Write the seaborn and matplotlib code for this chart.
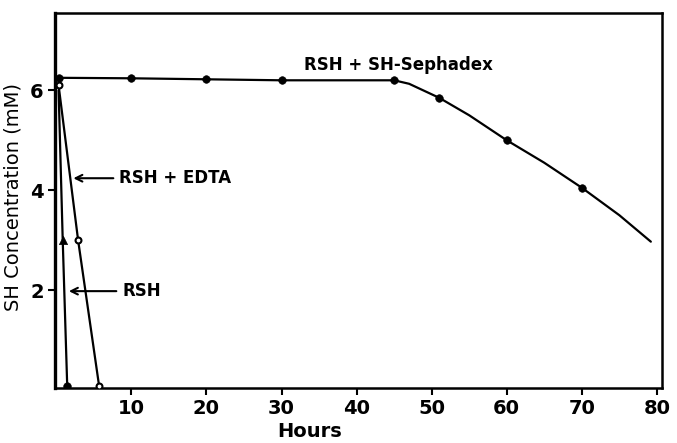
import numpy as np
import pandas as pd
import matplotlib
matplotlib.use("Agg")
import matplotlib.pyplot as plt
import seaborn as sns

# values (hours, SH mM)
seph_hours = [0.3, 10, 20, 30, 45, 51, 60, 70]
seph_sh = [6.25, 6.24, 6.22, 6.2, 6.2, 5.85, 5.0, 4.05]
# smooth drawn curve for the sephadex series
seph_curve_hours = [0.3, 10, 20, 30, 45, 47, 51, 55, 60, 65, 70, 75, 79.2]
seph_curve_sh = [6.25, 6.24, 6.22, 6.2, 6.2, 6.13, 5.85, 5.5, 5.0, 4.55, 4.05, 3.5, 2.97]

edta_hours = [0.3, 2.9, 5.7]
edta_sh = [6.1, 3.0, 0.08]

rsh_hours = [0.3, 0.85, 1.45]
rsh_sh = [6.0, 3.0, 0.08]

x_ticks = [10, 20, 30, 40, 50, 60, 70, 80]
y_ticks = [2, 4, 6]

sns.set_style("ticks", {"axes.edgecolor": "black", "text.color": "black",
                        "axes.labelcolor": "black", "xtick.color": "black",
                        "ytick.color": "black"})
plt.rcParams["font.family"] = ["DejaVu Sans"]
plt.rcParams["font.weight"] = "bold"

fig = plt.figure(figsize=(6.77, 4.43), dpi=100)
ax = fig.add_axes([0.081, 0.124, 0.897, 0.847])

ink = "black"
sns.lineplot(x=seph_curve_hours, y=seph_curve_sh, ax=ax, color=ink, lw=1.6,
             sort=False, estimator=None)
sns.scatterplot(x=seph_hours, y=seph_sh, ax=ax, color=ink, s=30, edgecolor=ink,
                zorder=3)

sns.lineplot(x=edta_hours, y=edta_sh, ax=ax, color=ink, lw=1.6, sort=False,
             estimator=None)
sns.scatterplot(x=edta_hours, y=edta_sh, ax=ax, facecolor="white", edgecolor=ink,
                linewidth=1.5, s=18, zorder=3)

sns.lineplot(x=rsh_hours, y=rsh_sh, ax=ax, color=ink, lw=1.6, sort=False,
             estimator=None)
sns.scatterplot(x=rsh_hours[1:2], y=rsh_sh[1:2], ax=ax, color=ink, marker="^",
                s=35, edgecolor=ink, zorder=3)
sns.scatterplot(x=rsh_hours[2:], y=rsh_sh[2:], ax=ax, color=ink, s=30,
                edgecolor=ink, zorder=3)

ax.set_xlim(-0.2, 80.7)
ax.set_ylim(0.04, 7.55)
ax.set_xticks(x_ticks)
ax.set_yticks(y_ticks)
ax.tick_params(direction="out", length=5, width=1.5, labelsize=14, pad=3,
               colors=ink)
for s in ax.spines.values():
    s.set_linewidth(1.8)
    s.set_visible(True)
    s.set_color(ink)
ax.spines["left"].set_linewidth(2.4)

ax.set_xlabel("Hours", fontsize=14, fontweight="bold", color=ink)
ax.xaxis.set_label_coords(0.42, -0.09)
ax.set_ylabel("SH Concentration (mM)", fontsize=14, fontweight="normal", color=ink)
ax.yaxis.set_label_coords(-0.054, 0.51)

ax.text(45.6, 6.5, "RSH + SH-Sephadex", fontsize=12, ha="center", va="center",
        color=ink)
ax.annotate("RSH + EDTA", xy=(1.9, 4.24), xytext=(8.4, 4.24), fontsize=12,
            ha="left", va="center", color=ink,
            arrowprops=dict(arrowstyle="->", color=ink, lw=1.5))
ax.annotate("RSH", xy=(1.3, 1.98), xytext=(8.8, 1.98), fontsize=12,
            ha="left", va="center", color=ink,
            arrowprops=dict(arrowstyle="->", color=ink, lw=1.5))

fig.savefig("out.png", dpi=100)
